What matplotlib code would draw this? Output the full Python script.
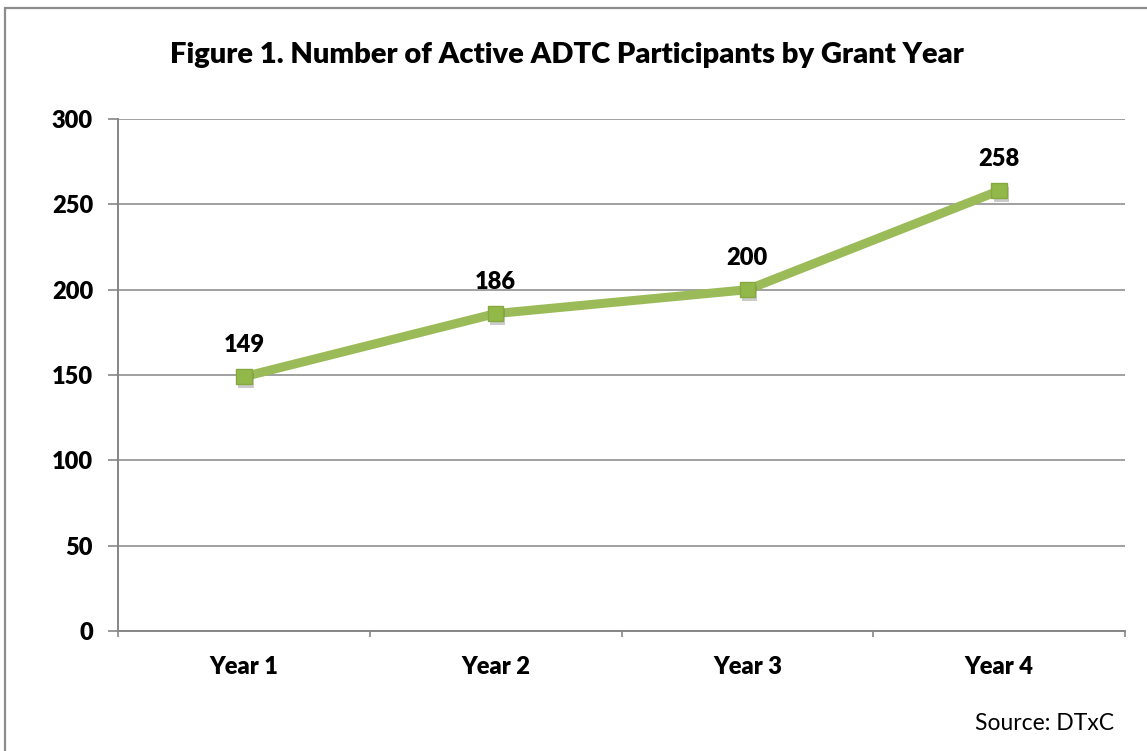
import matplotlib

matplotlib.use("Agg")
import matplotlib.pyplot as plt
import matplotlib.patheffects as pe
from matplotlib.patches import Rectangle

plt.rcParams["font.family"] = ["Lato", "DejaVu Sans"]

years = ["Year 1", "Year 2", "Year 3", "Year 4"]
participants = [149, 186, 200, 258]
y_ticks = [0, 50, 100, 150, 200, 250, 300]

GREEN = "#9bbb59"
GRID = "#868686"
LABEL_KW = dict(fontsize=17, fontweight="heavy")

fig = plt.figure(figsize=(11.47, 7.51), dpi=100)
ax = fig.add_axes([0.1029, 0.1598, 0.8779, 0.6817])

# outer chart-area border (runs off the right and bottom edges)
fig.patches.append(
    Rectangle((0.0045, -0.5), 1.5, 1.4893, transform=fig.transFigure,
              fill=False, edgecolor="#8c8c8c", lw=1.6)
)

x = list(range(len(years)))
ax.plot(x, participants, "-", color=GREEN, lw=6.5, solid_capstyle="round", zorder=3)
ax.plot(
    x, participants, "s", ms=11, zorder=4,
    markerfacecolor="#93b84a", markeredgecolor="#86a840", markeredgewidth=1,
    path_effects=[pe.SimplePatchShadow(offset=(1.5, -2.5), shadow_rgbFace="#555555", alpha=0.3),
                  pe.Normal()],
)
for xi, v in zip(x, participants):
    ax.annotate(str(v), (xi, v), xytext=(0, 15), textcoords="offset points",
                ha="center", va="bottom", **LABEL_KW)

ax.set_xlim(-0.5, len(years) - 0.5)
ax.set_ylim(0, 300)
ax.set_yticks(y_ticks)
ax.set_yticklabels([str(t) for t in y_ticks], **LABEL_KW)
ax.set_xticks(x)
ax.set_xticklabels(years, **LABEL_KW)
ax.set_xticks([i - 0.5 for i in range(len(years) + 1)], minor=True)

ax.tick_params(axis="y", length=7, width=1.2, color=GRID, pad=11)
ax.tick_params(axis="x", which="major", length=0, pad=18)
ax.tick_params(axis="x", which="minor", length=4, width=1.2, color=GRID)

ax.grid(axis="y", color=GRID, lw=1.1)
ax.set_axisbelow(True)
for side in ("top", "right"):
    ax.spines[side].set_visible(False)
for side in ("left", "bottom"):
    ax.spines[side].set_color(GRID)
    ax.spines[side].set_linewidth(1.4)

fig.text(0.494, 0.927, "Figure 1. Number of Active ADTC Participants by Grant Year",
         ha="center", va="center", fontsize=21, fontweight="heavy")
fig.text(0.971, 0.036, "Source: DTxC", ha="right", va="center", fontsize=16.5)

fig.savefig("out.png", dpi=100)
